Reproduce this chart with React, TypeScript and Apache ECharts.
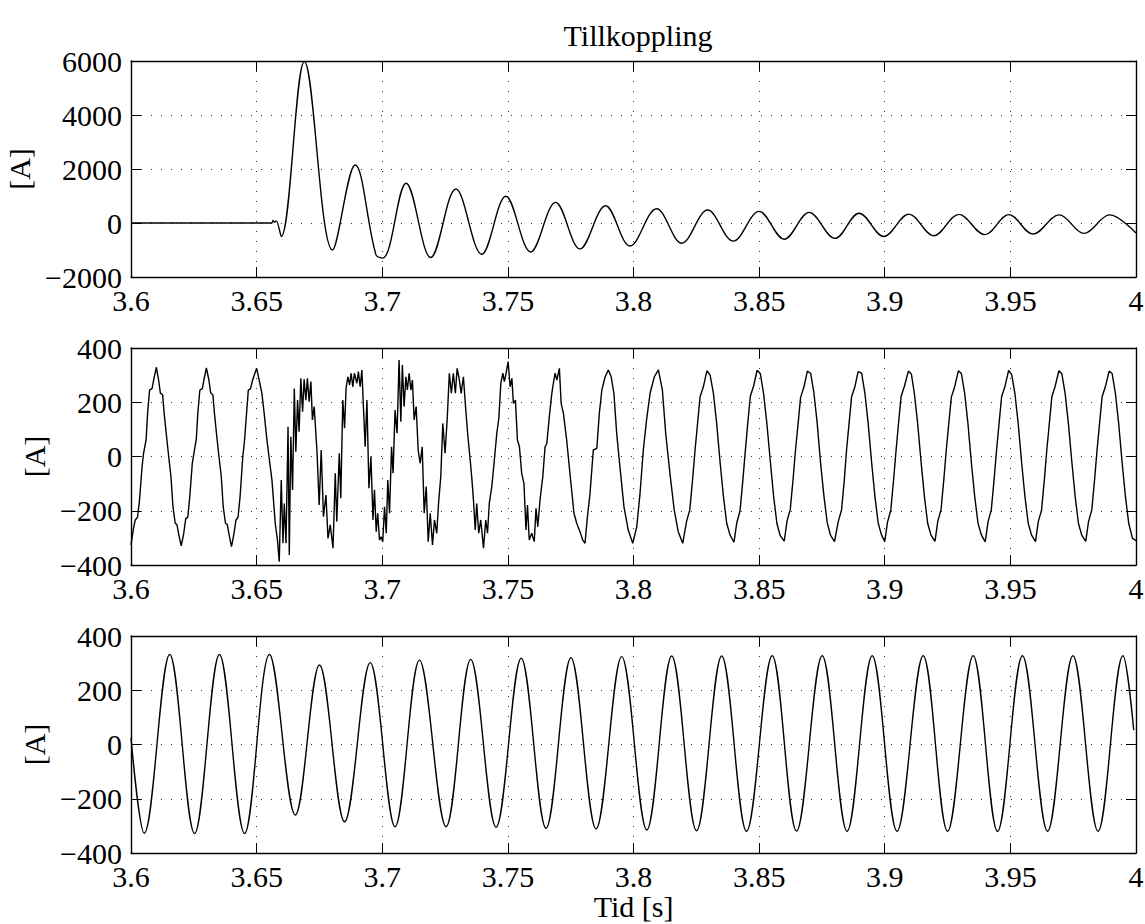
import React, { useEffect, useRef } from "react";
import * as echarts from "echarts";

// ---------- axis ranges / labels ----------
const TITLE = "Tillkoppling";
const X_LABEL = "Tid [s]";
const Y_LABEL = "[A]";
const X_RANGE = [3.6, 4, 0.05]; // min, max, step
const Y_RANGE_TOP = [-2000, 6000, 2000];
const Y_RANGE_MID = [-400, 400, 200];
const Y_RANGE_BOT = [-400, 400, 200];

// ---------- plot 1: inrush current [t, A] (peaks / troughs) ----------
const current1: [number, number][] = [
  [3.6, 0], [3.656, 0], [3.6565, 90], [3.6572, 30], [3.6578, 80], [3.6598, -500],
  [3.669, 5980], [3.6802, -1000], [3.6892, 2150], [3.6975, -1180], [3.7002, -1300], [3.7095, 1470],
  [3.7193, -1280], [3.7293, 1260], [3.7396, -1160], [3.7492, 990], [3.7591, -1075],
  [3.769, 765], [3.7787, -960], [3.7889, 640], [3.7986, -850], [3.8092, 530],
  [3.8192, -750], [3.8295, 480], [3.8397, -670], [3.85, 430], [3.86, -600],
  [3.8699, 395], [3.8802, -570], [3.8898, 360], [3.8996, -500], [3.9096, 330],
  [3.9195, -470], [3.9295, 320], [3.9398, -430], [3.9494, 310], [3.959, -410],
  [3.9694, 300], [3.9793, -385], [3.9895, 300], [4.0, -370],
];

// ---------- plot 2: noisy current [t, A] ----------
const current2: [number, number][] = [
  [3.6000, -326], [3.6010, -265], [3.6017, -234], [3.6026, -224], [3.6034, -160], [3.6044, -38], [3.6050, 12], [3.6060, 61], [3.6066, 159], [3.6074, 245], [3.6084, 251], [3.6090, 282], [3.6101, 329], [3.6110, 282], [3.6117, 233], [3.6126, 227], [3.6132, 159], [3.6143, 61], [3.6150, 0], [3.6159, -74], [3.6167, -185], [3.6176, -246], [3.6183, -252], [3.6192, -296], [3.6200, -329],
  [3.6210, -283], [3.6218, -228], [3.6226, -224], [3.6234, -148], [3.6244, -25], [3.6250, 10], [3.6260, 65], [3.6266, 160], [3.6274, 245], [3.6284, 250], [3.6290, 282], [3.6300, 327], [3.6310, 282], [3.6317, 235], [3.6326, 227], [3.6332, 160], [3.6343, 60], [3.6350, 0], [3.6359, -70], [3.6367, -185], [3.6376, -246], [3.6383, -250], [3.6392, -296], [3.6400, -332],
  [3.6410, -283], [3.6418, -234], [3.6426, -224], [3.6434, -150], [3.6445, 0], [3.6452, 60], [3.6460, 160], [3.6467, 245], [3.6476, 250], [3.6484, 282], [3.6500, 325], [3.6510, 282], [3.6521, 233], [3.6530, 160], [3.6541, 61], [3.6561, -87], [3.6574, -246],
  [3.6583, -308], [3.6590, -388], [3.6598, -87], [3.6605, -320], [3.6610, -173], [3.6617, -320], [3.6625, 110], [3.6630, -363], [3.6636, 73], [3.6643, -123], [3.6650, 251], [3.6656, 18], [3.6663, 208], [3.6669, 91], [3.6676, 288], [3.6683, 165], [3.6689, 285], [3.6696, 208], [3.6702, 288], [3.6709, 202], [3.6716, 276], [3.6722, 135], [3.6729, 184], [3.6740, 24], [3.6749, -179], [3.6757, 24], [3.6766, -222], [3.6776, -142], [3.6784, -302], [3.6793, -252], [3.6804, -338], [3.6813, -62], [3.6819, -240], [3.6829, 12], [3.6835, -154], [3.6843, 208], [3.6850, 104], [3.6856, 251], [3.6863, 294], [3.6870, 264], [3.6876, 307], [3.6883, 257], [3.6889, 307], [3.6899, 270], [3.6905, 313], [3.6912, 257], [3.6919, 319], [3.6925, 184], [3.6932, 36], [3.6939, 208], [3.6947, -117], [3.6955, 0], [3.6963, -234], [3.6969, -123], [3.6976, -277], [3.6982, -209], [3.6989, -308], [3.6996, -296], [3.7002, -314], [3.7009, -185], [3.7016, -283], [3.7022, -87], [3.7029, -209], [3.7037, 36], [3.7043, -62], [3.7051, 171], [3.7059, 86], [3.7067, 356], [3.7074, 128], [3.7080, 337], [3.7087, 184], [3.7094, 294], [3.7100, 245], [3.7107, 307], [3.7114, 245], [3.7120, 282], [3.7127, 135], [3.7135, 184], [3.7143, 24], [3.7151, -25], [3.7159, 36], [3.7167, -209], [3.7175, -111], [3.7183, -314], [3.7191, -209], [3.7200, -326], [3.7208, -234], [3.7217, -283], [3.7224, -173], [3.7233, -74], [3.7241, 122], [3.7250, 12], [3.7259, 147], [3.7267, 307], [3.7275, 233], [3.7283, 307], [3.7291, 233], [3.7298, 325], [3.7306, 288], [3.7314, 233], [3.7323, 294], [3.7333, 165], [3.7341, 73], [3.7350, -13], [3.7356, -74], [3.7363, -160], [3.7370, -271], [3.7376, -173], [3.7384, -283], [3.7392, -234], [3.7403, -338], [3.7412, -234], [3.7419, -283], [3.7426, -173], [3.7436, -111], [3.7445, -25], [3.7456, 86], [3.7464, 141], [3.7472, 270], [3.7480, 307], [3.7486, 276], [3.7493, 307], [3.7501, 350], [3.7509, 257], [3.7516, 288], [3.7522, 196], [3.7530, 208], [3.7538, 61], [3.7546, 36],
  [3.7555, -62], [3.7564, -99], [3.7572, -271], [3.7578, -179], [3.7585, -308], [3.7595, -283], [3.7605, -314], [3.7612, -191], [3.7619, -259], [3.7628, -160], [3.7639, -74], [3.7648, 36], [3.7655, 48], [3.7665, 147], [3.7675, 233], [3.7681, 270], [3.7688, 307], [3.7695, 282], [3.7705, 325], [3.7712, 196], [3.7721, 159], [3.7734, 61], [3.7747, -62], [3.7763, -209], [3.7774, -246], [3.7787, -277], [3.7798, -308], [3.7807, -320], [3.7816, -228], [3.7827, -136], [3.7840, 24], [3.7854, 30], [3.7864, 159], [3.7874, 245], [3.7887, 294], [3.7900, 319], [3.7911, 294], [3.7922, 233], [3.7933, 86], [3.7946, -38], [3.7962, -185], [3.7979, -271], [3.7997, -320], [3.8013, -259], [3.8026, -136], [3.8039, 24], [3.8052, 135], [3.8066, 233], [3.8083, 294], [3.8099, 319], [3.8115, 245], [3.8128, 86], [3.8145, -62], [3.8162, -197], [3.8178, -277], [3.8196, -320],
  [3.8211, -240], [3.8224, -197], [3.8235, -87], [3.8245, 24], [3.8255, 122], [3.8265, 220], [3.8278, 257], [3.8292, 316], [3.8305, 300], [3.8318, 233], [3.8331, 122], [3.8345, -25], [3.8358, -148], [3.8371, -246], [3.8384, -289], [3.8400, -316],
  [3.8411, -245], [3.8424, -200], [3.8435, -90], [3.8445, 20], [3.8455, 125], [3.8465, 222], [3.8478, 260], [3.8492, 318], [3.8505, 305], [3.8518, 230], [3.8531, 120], [3.8545, -22], [3.8558, -150], [3.8571, -248], [3.8584, -292], [3.8600, -312],
  [3.8611, -238], [3.8624, -195], [3.8635, -85], [3.8645, 26], [3.8655, 120], [3.8665, 218], [3.8678, 255], [3.8692, 315], [3.8705, 307], [3.8718, 235], [3.8731, 124], [3.8745, -28], [3.8758, -146], [3.8771, -244], [3.8784, -290], [3.8800, -314],
  [3.8815, -240], [3.8828, -197], [3.8839, -87], [3.8848, 24], [3.8858, 122], [3.8868, 220], [3.8881, 257], [3.8894, 313], [3.8908, 307], [3.8921, 233], [3.8934, 122], [3.8948, -25], [3.8961, -148], [3.8974, -246], [3.8987, -289], [3.9000, -314],
  [3.9011, -242], [3.9024, -198], [3.9035, -88], [3.9045, 22], [3.9055, 124], [3.9065, 221], [3.9078, 258], [3.9094, 315], [3.9106, 304], [3.9118, 232], [3.9131, 121], [3.9145, -24], [3.9158, -149], [3.9171, -247], [3.9184, -290], [3.9200, -313],
  [3.9211, -239], [3.9224, -196], [3.9235, -86], [3.9245, 25], [3.9255, 123], [3.9265, 219], [3.9278, 256], [3.9293, 316], [3.9305, 306], [3.9318, 234], [3.9331, 123], [3.9345, -26], [3.9358, -147], [3.9371, -245], [3.9384, -288], [3.9400, -315],
  [3.9411, -241], [3.9424, -197], [3.9435, -87], [3.9445, 23], [3.9455, 122], [3.9465, 220], [3.9478, 257], [3.9493, 317], [3.9505, 303], [3.9518, 233], [3.9531, 122], [3.9545, -25], [3.9558, -148], [3.9571, -246], [3.9584, -289], [3.9600, -314],
  [3.9611, -240], [3.9624, -198], [3.9635, -88], [3.9645, 24], [3.9655, 121], [3.9665, 220], [3.9678, 258], [3.9693, 316], [3.9705, 305], [3.9718, 232], [3.9731, 121], [3.9745, -24], [3.9758, -149], [3.9771, -247], [3.9784, -290], [3.9800, -313],
  [3.9811, -240], [3.9824, -197], [3.9835, -87], [3.9845, 24], [3.9855, 122], [3.9865, 220], [3.9878, 257], [3.9893, 315], [3.9905, 306], [3.9918, 233], [3.9931, 122], [3.9945, -25], [3.9958, -148], [3.9971, -246], [3.9986, -302], [4.0000, -310],
];

// ---------- plot 3: filtered current [t, A] (peaks / troughs) ----------
const current3: [number, number][] = [
  [3.6, 25], [3.6053, -327], [3.6154, 332], [3.6253, -328], [3.6352, 332], [3.6452, -328],
  [3.6551, 332], [3.6654, -260], [3.675, 293], [3.685, -285], [3.6952, 302], [3.7051, -303],
  [3.7148, 311], [3.7254, -303], [3.7352, 314], [3.7453, -305], [3.7553, 318], [3.7652, -309],
  [3.7751, 320], [3.7851, -311], [3.7953, 324], [3.8053, -315], [3.8152, 326], [3.8251, -318],
  [3.8351, 326], [3.845, -320], [3.8552, 327], [3.8649, -319], [3.8751, 327], [3.885, -320],
  [3.895, 327], [3.9049, -320], [3.9153, 327], [3.925, -320], [3.9352, 327], [3.9449, -320],
  [3.9548, 327], [3.9648, -320], [3.9749, 327], [3.9849, -320], [3.9948, 327], [3.9991, 53],
];

const FONT = "'Liberation Serif', 'Times New Roman', serif";
const FS = 30;

const fmtX = (v: number) => String(+v.toFixed(2));
const fmtY = (v: number) => (v < 0 ? "\u2212" + Math.abs(v) : String(v));

export default function App() {
  const ref = useRef<HTMLDivElement>(null);

  useEffect(() => {
    if (!ref.current) return;
    const chart = echarts.init(ref.current, undefined, { renderer: "svg" });

    const grids = [
      { left: 131, top: 61, width: 1005, height: 216, containLabel: false, outerBoundsMode: "none" },
      { left: 131, top: 348, width: 1005, height: 217, containLabel: false, outerBoundsMode: "none" },
      { left: 131, top: 636, width: 1005, height: 217, containLabel: false, outerBoundsMode: "none" },
    ];
    const yRanges = [Y_RANGE_TOP, Y_RANGE_MID, Y_RANGE_BOT];
    const nameGaps = [92, 77, 77];
    const dataSets = [current1, current2, current3];
    const smooths = [0.36, 0, 0.36];

    const axisLine = { show: true, onZero: false, lineStyle: { color: "#000", width: 1.4 } };
    const axisTick = { show: true, inside: true, length: 10, lineStyle: { color: "#000", width: 1 } };
    const gridLine = { show: true, lineStyle: { color: "#333", width: 1, type: [1, 9] as any } };
    const labelStyle = { color: "#000", fontFamily: FONT, fontSize: FS };

    const xAxis: any[] = [];
    const yAxis: any[] = [];
    const series: any[] = [];

    grids.forEach((_, i) => {
      xAxis.push({
        gridIndex: i, type: "value", position: "bottom",
        min: X_RANGE[0], max: X_RANGE[1], interval: X_RANGE[2],
        axisLine, axisTick, splitLine: gridLine,
        axisLabel: { ...labelStyle, margin: 8, formatter: fmtX, showMinLabel: true, showMaxLabel: true },
        ...(i === 2
          ? { name: X_LABEL, nameLocation: "middle", nameGap: 37, nameTextStyle: { ...labelStyle } }
          : {}),
      });
      xAxis.push({
        gridIndex: i, type: "value", position: "top",
        min: X_RANGE[0], max: X_RANGE[1], interval: X_RANGE[2],
        axisLine, axisTick, splitLine: { show: false }, axisLabel: { show: false },
      });
      const [ymin, ymax, ystep] = yRanges[i];
      yAxis.push({
        gridIndex: i, type: "value", position: "left",
        min: ymin, max: ymax, interval: ystep,
        axisLine, axisTick, splitLine: gridLine,
        axisLabel: { ...labelStyle, margin: 9, formatter: fmtY, showMinLabel: true, showMaxLabel: true },
        name: Y_LABEL, nameLocation: "middle", nameGap: nameGaps[i],
        nameTextStyle: { ...labelStyle },
      });
      yAxis.push({
        gridIndex: i, type: "value", position: "right",
        min: ymin, max: ymax, interval: ystep,
        axisLine, axisTick, splitLine: { show: false }, axisLabel: { show: false },
      });
      series.push({
        type: "line",
        xAxisIndex: 2 * i,
        yAxisIndex: 2 * i,
        data: dataSets[i],
        showSymbol: false,
        symbol: "none",
        smooth: smooths[i],
        lineStyle: { color: "#000", width: 1.4 },
        clip: true,
        silent: true,
      });
    });

    chart.setOption({
      animation: false,
      backgroundColor: "#fff",
      title: {
        text: TITLE,
        left: 633,
        top: 15,
        textAlign: "center",
        textStyle: { ...labelStyle, fontWeight: "normal" },
      },
      grid: grids,
      xAxis,
      yAxis,
      series,
    });

    return () => chart.dispose();
  }, []);

  return (
    <div
      ref={ref}
      style={{ position: "absolute", left: 0, top: 0, width: 1145, height: 924, background: "#fff" }}
    />
  );
}
